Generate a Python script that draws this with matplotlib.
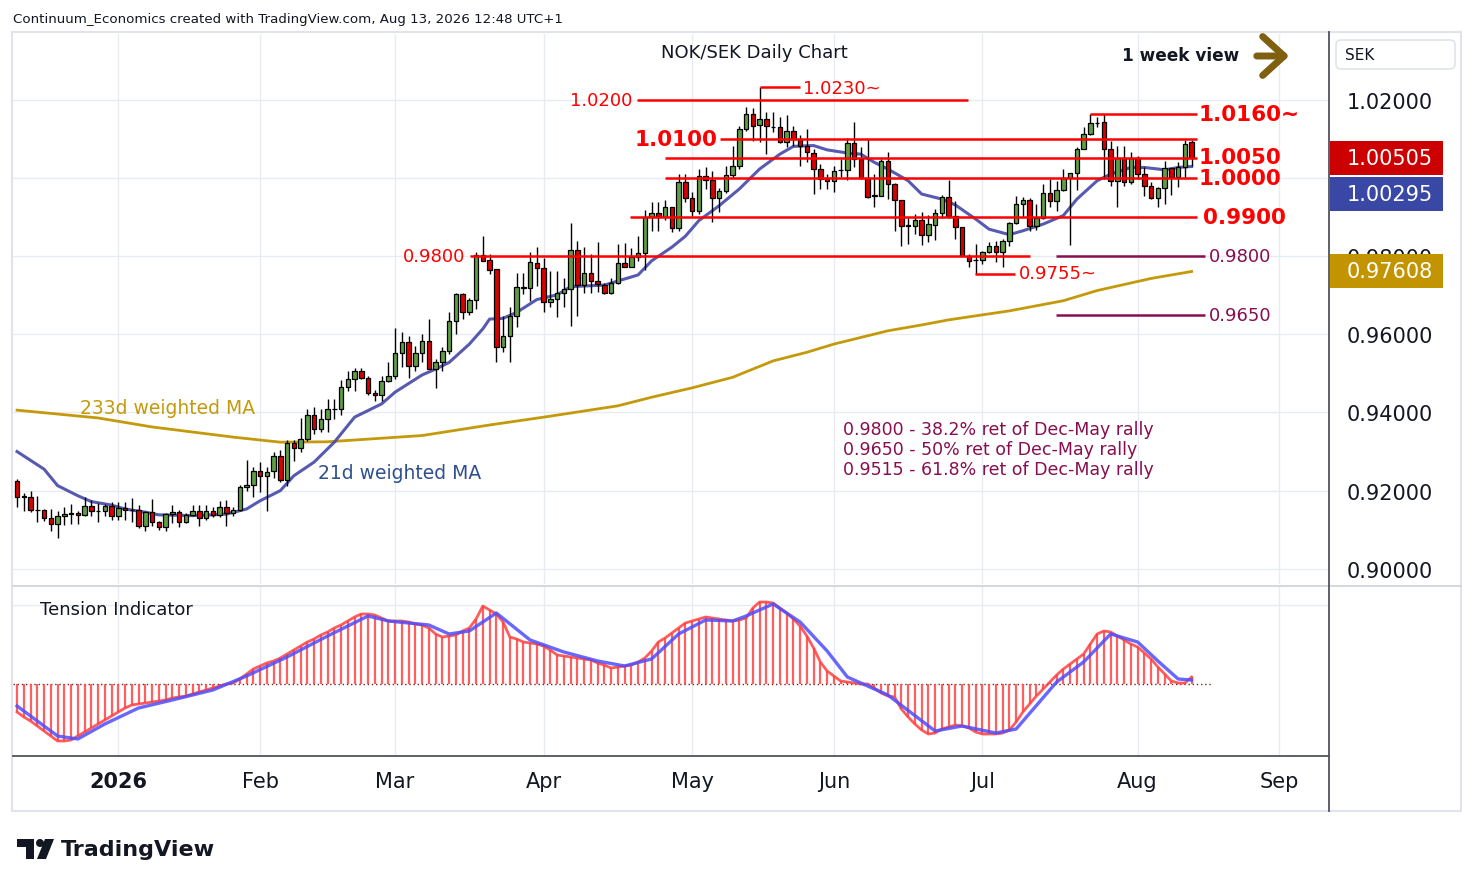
import numpy as np
import pandas as pd
import matplotlib
matplotlib.use("Agg")
import matplotlib.pyplot as plt
from matplotlib import transforms
from matplotlib.patches import Rectangle, Polygon, Circle, FancyArrowPatch, FancyBboxPatch

plt.rcParams["font.family"] = ["DejaVu Sans"]

# trading days shown (Dec 25 and Jan 1 have no bar), plus empty space to mid Sep
dates = pd.bdate_range("2025-12-10", "2026-09-10")
dates = dates[~dates.isin(pd.to_datetime(["2025-12-25", "2026-01-01"]))]

# NOK/SEK daily OHLC, Dec 10 2025 .. Aug 13 2026
opens = [
    0.9225, 0.9186, 0.9185, 0.9150, 0.9150, 0.9129, 0.9114, 0.9134, 0.9141, 0.9142,
    0.9137, 0.9160, 0.9148, 0.9147, 0.9160, 0.9134, 0.9155, 0.9151, 0.9150, 0.9109,
    0.9145, 0.9120, 0.9106, 0.9139, 0.9145, 0.9120, 0.9138, 0.9148, 0.9131, 0.9148,
    0.9137, 0.9158, 0.9142, 0.9150, 0.9209, 0.9214, 0.9250, 0.9237, 0.9249, 0.9288,
    0.9227, 0.9321, 0.9309, 0.9332, 0.9394, 0.9358, 0.9383, 0.9410, 0.9408, 0.9464,
    0.9486, 0.9507, 0.9488, 0.9450, 0.9445, 0.9480, 0.9493, 0.9552, 0.9581, 0.9518,
    0.9552, 0.9582, 0.9511, 0.9528, 0.9557, 0.9635, 0.9703, 0.9656, 0.9688, 0.9803,
    0.9790, 0.9767, 0.9568, 0.9596, 0.9648, 0.9720, 0.9718, 0.9782, 0.9769, 0.9682,
    0.9690, 0.9706, 0.9716, 0.9816, 0.9725, 0.9756, 0.9736, 0.9727, 0.9707, 0.9731,
    0.9782, 0.9771, 0.9797, 0.9807, 0.9901, 0.9910, 0.9900, 0.9925, 0.9872, 0.9989,
    0.9948, 0.9915, 1.0006, 0.9994, 0.9949, 0.9966, 1.0008, 1.0030, 1.0125, 1.0164,
    1.0136, 1.0150, 1.0131, 1.0130, 1.0091, 1.0121, 1.0100, 1.0083, 1.0064, 1.0023,
    1.0000, 0.9993, 1.0020, 1.0020, 1.0089, 1.0049, 0.9999, 0.9955, 0.9955, 1.0043,
    0.9984, 0.9944, 0.9878, 0.9878, 0.9893, 0.9855, 0.9881, 0.9910, 0.9952, 0.9902,
    0.9874, 0.9801, 0.9789, 0.9789, 0.9810, 0.9826, 0.9810, 0.9838, 0.9884, 0.9933,
    0.9944, 0.9878, 0.9898, 0.9961, 0.9942, 0.9970, 0.9999, 1.0012, 1.0074, 1.0113,
    1.0141, 1.0143, 1.0074, 0.9993, 1.0051, 0.9989, 1.0051, 1.0010, 0.9980, 0.9948,
    0.9974, 1.0025, 1.0003, 1.0029, 1.0091,
]
highs = [
    0.9230, 0.9194, 0.9198, 0.9186, 0.9153, 0.9153, 0.9149, 0.9157, 0.9166, 0.9149,
    0.9183, 0.9177, 0.9168, 0.9166, 0.9170, 0.9170, 0.9170, 0.9180, 0.9162, 0.9149,
    0.9179, 0.9122, 0.9143, 0.9163, 0.9150, 0.9143, 0.9162, 0.9164, 0.9162, 0.9157,
    0.9174, 0.9176, 0.9157, 0.9215, 0.9279, 0.9260, 0.9274, 0.9260, 0.9300, 0.9303,
    0.9330, 0.9330, 0.9385, 0.9409, 0.9414, 0.9410, 0.9434, 0.9435, 0.9484, 0.9507,
    0.9514, 0.9514, 0.9493, 0.9458, 0.9493, 0.9530, 0.9615, 0.9605, 0.9596, 0.9570,
    0.9601, 0.9639, 0.9537, 0.9567, 0.9656, 0.9706, 0.9706, 0.9693, 0.9810, 0.9852,
    0.9806, 0.9767, 0.9648, 0.9669, 0.9756, 0.9756, 0.9810, 0.9823, 0.9795, 0.9763,
    0.9763, 0.9744, 0.9885, 0.9840, 0.9823, 0.9806, 0.9835, 0.9731, 0.9744, 0.9831,
    0.9834, 0.9820, 0.9851, 0.9918, 0.9938, 0.9938, 0.9944, 0.9926, 1.0010, 1.0010,
    0.9963, 1.0023, 1.0027, 1.0019, 0.9975, 1.0030, 1.0083, 1.0134, 1.0181, 1.0178,
    1.0232, 1.0168, 1.0168, 1.0155, 1.0161, 1.0134, 1.0109, 1.0125, 1.0074, 1.0036,
    1.0010, 1.0031, 1.0049, 1.0102, 1.0143, 1.0079, 1.0100, 1.0010, 1.0049, 1.0066,
    0.9986, 0.9944, 0.9897, 0.9908, 0.9912, 0.9906, 0.9921, 0.9957, 0.9995, 0.9942,
    0.9874, 0.9805, 0.9831, 0.9814, 0.9837, 0.9840, 0.9844, 0.9887, 0.9955, 0.9951,
    0.9950, 0.9933, 0.9985, 0.9997, 0.9993, 1.0023, 1.0012, 1.0079, 1.0130, 1.0164,
    1.0155, 1.0164, 1.0095, 1.0083, 1.0081, 1.0067, 1.0057, 1.0027, 0.9990, 0.9976,
    1.0044, 1.0025, 1.0040, 1.0098, 1.0098,
]
lows = [
    0.9158, 0.9149, 0.9145, 0.9120, 0.9122, 0.9098, 0.9078, 0.9112, 0.9114, 0.9114,
    0.9134, 0.9135, 0.9121, 0.9135, 0.9126, 0.9126, 0.9126, 0.9119, 0.9104, 0.9098,
    0.9109, 0.9100, 0.9098, 0.9116, 0.9108, 0.9116, 0.9134, 0.9110, 0.9125, 0.9132,
    0.9132, 0.9110, 0.9134, 0.9147, 0.9200, 0.9183, 0.9196, 0.9147, 0.9232, 0.9222,
    0.9211, 0.9277, 0.9300, 0.9328, 0.9345, 0.9349, 0.9349, 0.9383, 0.9394, 0.9456,
    0.9454, 0.9486, 0.9446, 0.9430, 0.9429, 0.9479, 0.9485, 0.9517, 0.9489, 0.9506,
    0.9528, 0.9511, 0.9462, 0.9507, 0.9550, 0.9601, 0.9639, 0.9649, 0.9665, 0.9788,
    0.9754, 0.9528, 0.9556, 0.9528, 0.9620, 0.9703, 0.9686, 0.9724, 0.9658, 0.9669,
    0.9644, 0.9669, 0.9622, 0.9646, 0.9707, 0.9707, 0.9709, 0.9703, 0.9702, 0.9729,
    0.9771, 0.9771, 0.9788, 0.9765, 0.9865, 0.9865, 0.9893, 0.9863, 0.9865, 0.9938,
    0.9902, 0.9908, 0.9972, 0.9887, 0.9914, 0.9961, 1.0000, 1.0023, 1.0120, 1.0095,
    1.0091, 1.0061, 1.0117, 1.0090, 1.0079, 1.0083, 1.0030, 1.0040, 0.9959, 0.9972,
    0.9972, 0.9963, 1.0002, 0.9995, 1.0027, 0.9998, 0.9950, 0.9927, 0.9954, 0.9946,
    0.9865, 0.9827, 0.9831, 0.9857, 0.9829, 0.9837, 0.9841, 0.9898, 0.9898, 0.9844,
    0.9801, 0.9771, 0.9754, 0.9780, 0.9809, 0.9786, 0.9771, 0.9827, 0.9883, 0.9899,
    0.9865, 0.9868, 0.9896, 0.9925, 0.9916, 0.9968, 0.9829, 0.9970, 1.0073, 1.0111,
    1.0131, 0.9997, 0.9980, 0.9927, 0.9980, 0.9985, 0.9997, 0.9955, 0.9946, 0.9927,
    0.9933, 0.9957, 0.9976, 1.0000, 1.0031,
]
closes = [
    0.9184, 0.9184, 0.9150, 0.9150, 0.9130, 0.9114, 0.9134, 0.9139, 0.9142, 0.9137,
    0.9160, 0.9148, 0.9147, 0.9161, 0.9134, 0.9155, 0.9150, 0.9150, 0.9109, 0.9145,
    0.9120, 0.9106, 0.9139, 0.9145, 0.9120, 0.9138, 0.9148, 0.9131, 0.9148, 0.9137,
    0.9158, 0.9142, 0.9150, 0.9209, 0.9215, 0.9250, 0.9238, 0.9247, 0.9288, 0.9227,
    0.9321, 0.9309, 0.9332, 0.9394, 0.9358, 0.9383, 0.9410, 0.9408, 0.9464, 0.9486,
    0.9507, 0.9488, 0.9450, 0.9445, 0.9480, 0.9493, 0.9552, 0.9581, 0.9518, 0.9552,
    0.9583, 0.9511, 0.9528, 0.9557, 0.9635, 0.9703, 0.9656, 0.9688, 0.9803, 0.9788,
    0.9765, 0.9568, 0.9596, 0.9648, 0.9720, 0.9719, 0.9784, 0.9769, 0.9682, 0.9690,
    0.9706, 0.9716, 0.9816, 0.9725, 0.9756, 0.9736, 0.9729, 0.9707, 0.9731, 0.9782,
    0.9771, 0.9797, 0.9807, 0.9901, 0.9910, 0.9901, 0.9925, 0.9872, 0.9989, 0.9948,
    0.9915, 1.0004, 0.9994, 0.9949, 0.9966, 1.0008, 1.0030, 1.0125, 1.0164, 1.0134,
    1.0150, 1.0132, 1.0131, 1.0091, 1.0121, 1.0100, 1.0083, 1.0066, 1.0023, 0.9997,
    0.9993, 1.0017, 1.0020, 1.0089, 1.0049, 0.9999, 0.9952, 0.9955, 1.0043, 0.9984,
    0.9944, 0.9876, 0.9878, 0.9893, 0.9855, 0.9882, 0.9910, 0.9952, 0.9902, 0.9874,
    0.9801, 0.9787, 0.9789, 0.9810, 0.9826, 0.9810, 0.9838, 0.9884, 0.9933, 0.9944,
    0.9878, 0.9898, 0.9962, 0.9942, 0.9970, 0.9999, 1.0012, 1.0074, 1.0113, 1.0140,
    1.0142, 1.0074, 0.9993, 1.0051, 0.9989, 1.0051, 1.0010, 0.9980, 0.9948, 0.9974,
    1.0025, 1.0003, 1.0029, 1.0087, 1.00505,
]

# 21d weighted MA (bar index, value)
wma21_x = [0, 4, 6, 9, 11, 14, 16, 19, 21, 24, 26, 29, 31, 34, 36, 39, 41, 44, 47, 50,
           54, 56, 60, 62, 64, 67, 69, 70, 72, 74, 77, 80, 82, 87, 92, 94, 97, 99, 101, 104,
           107, 110, 113, 115, 118, 120, 123, 125, 127, 129, 132, 134, 137, 139, 142, 144, 147, 149, 152, 155,
           157, 160, 162, 165, 167, 170, 172, 174]
wma21_v = [0.9300, 0.9255, 0.9213, 0.9187, 0.9172, 0.9163, 0.9153, 0.9145, 0.9138, 0.9137,
           0.9136, 0.9138, 0.9140, 0.9153, 0.9174, 0.9200, 0.9238, 0.9273, 0.9324, 0.9388,
           0.9422, 0.9452, 0.9496, 0.9511, 0.9528, 0.9575, 0.9614, 0.9639, 0.9641, 0.9656,
           0.9689, 0.9701, 0.9722, 0.9726, 0.9752, 0.9788, 0.9823, 0.9851, 0.9891, 0.9929,
           0.9972, 1.0023, 1.0061, 1.0081, 1.0083, 1.0072, 1.0064, 1.0061, 1.0040, 1.0023,
           0.9993, 0.9959, 0.9946, 0.9931, 0.9895, 0.9869, 0.9855, 0.9865, 0.9882, 0.9904,
           0.9946, 0.9993, 1.0010, 1.0027, 1.0027, 1.0021, 1.0027, 1.00295]

# 233d weighted MA (bar index, value)
wma233_x = [0, 12, 20, 26, 32, 39, 46, 60, 70, 78, 89, 94, 100, 106, 109, 112, 117, 121, 125,
            129, 134, 138, 147, 151, 155, 160, 168, 174]
wma233_v = [0.9406, 0.9386, 0.9363, 0.9350, 0.9337, 0.9324, 0.9325, 0.9341, 0.9368, 0.9388,
            0.9417, 0.9439, 0.9463, 0.9490, 0.9511, 0.9532, 0.9554, 0.9575, 0.9592,
            0.9609, 0.9624, 0.9637, 0.9660, 0.9673, 0.9686, 0.9712, 0.9743, 0.97608]

# Tension indicator, one value per bar, and its signal line
tension = [
    -28, -33, -37, -42, -47, -52, -57, -57, -56, -52,
    -48, -44, -40, -36, -32, -28, -24, -21, -20, -19,
    -18, -17, -16, -14, -13, -12, -10, -8, -6, -4,
    -2, 0, 1, 5, 10, 15, 18, 21, 23, 26,
    30, 34, 38, 42, 45, 49, 52, 56, 59, 63,
    67, 70, 70, 69, 66, 63, 63, 63, 62, 60,
    59, 56, 50, 47, 48, 49, 53, 56, 65, 78,
    74, 70, 62, 47, 45, 42, 41, 40, 38, 34,
    29, 28, 27, 26, 25, 24, 21, 19, 16, 17,
    18, 19, 22, 26, 33, 42, 46, 51, 56, 61,
    63, 65, 67, 66, 65, 64, 63, 64, 66, 76,
    82, 82, 81, 76, 71, 65, 58, 48, 36, 22,
    13, 8, 3, 2, 1, 0, 0, -4, -9, -12,
    -13, -25, -33, -40, -46, -50, -49, -45, -43, -41,
    -42, -44, -48, -50, -50, -50, -49, -46, -38, -28,
    -20, -12, -5, 2, 9, 15, 20, 25, 30, 40,
    50, 53, 52, 48, 44, 40, 37, 31, 25, 17,
    10, 3, 1, 1, 7,
]
signal_x = [0, 6, 9, 13, 18, 23, 29, 34, 40, 46, 52, 55, 61, 64, 67, 71, 76, 81, 86, 90,
            94, 98, 102, 106, 108, 112, 116, 120, 123, 129, 136, 140, 145, 148, 154, 158, 162, 166, 169, 172, 174]
signal_v = [-22, -52, -55, -40, -24, -16, -6, 8, 27, 48, 68, 63, 59, 50, 53, 71, 44, 32, 23, 18,
            25, 50, 64, 63, 68, 80, 62, 33, 7, -11, -47, -42, -49, -45, 2, 22, 50, 42, 23, 5, 4]

n = len(closes)
idx = np.arange(n)
o, h, l, c = map(np.array, (opens, highs, lows, closes))

# month ticks: first bar of each month from Jan
month_pos, month_lab = [], []
for i, d in enumerate(dates):
    if d.year == 2026 and (i == 0 or dates[i - 1].month != d.month):
        month_pos.append(i)
        month_lab.append("2026" if d.month == 1 else d.strftime("%b"))

W, H = 1474, 887
fig = plt.figure(figsize=(W / 100, H / 100), dpi=100)


def rect(x0, y0, x1, y1):
    return [x0 / W, 1 - y1 / H, (x1 - x0) / W, (y1 - y0) / H]


ax1 = fig.add_axes(rect(13, 35, 1328, 585))
ax2 = fig.add_axes(rect(13, 588, 1328, 757))
XL = (-0.6, 194.2)

# ---------------- price pane ----------------
ax1.set_xlim(*XL)
ax1.set_ylim(0.89611, 1.03685)
for s in ax1.spines.values():
    s.set_visible(False)
ax1.set_xticks(month_pos)
ax1.tick_params(axis="x", length=0, labelbottom=False)
ax1.yaxis.tick_right()
yt = np.arange(0.90, 1.0201, 0.02)
ax1.set_yticks(yt)
# 1.00000 sits under the last-price boxes, so the scale leaves it out
ax1.set_yticklabels(["" if abs(v - 1.0) < 1e-9 else f"{v:.5f}" for v in yt])
ax1.tick_params(axis="y", length=0, pad=13.5, labelsize=15, labelcolor="#131722")
ax1.grid(True, color="#e6ecf2", lw=1, zorder=0)

ax1.plot(wma233_x, wma233_v, color="#c49a0c", lw=2, zorder=2)
ax1.plot(wma21_x, wma21_v, color="#4549a8", lw=2.2, alpha=0.9, zorder=2)

up = c >= o
col = np.where(up, "#5f9e45", "#d90000")
ax1.vlines(idx, l, h, color="black", lw=1, zorder=3)
body_lo = np.minimum(o, c)
body_h = np.maximum(np.abs(c - o), 0.00008)
ax1.bar(idx, body_h, bottom=body_lo, width=0.66, color=col, edgecolor="black",
        linewidth=0.9, zorder=4)

# red levels
red = "#ff0000"
red_lines = [(1.0200, 91.9, 140.9), (1.0232, 110.0, 116.0), (1.0100, 104.2, 174.8),
             (1.0164, 159.0, 174.8), (1.0050, 96.0, 174.8), (1.0000, 96.0, 174.8),
             (0.9900, 90.8, 174.8), (0.9800, 67.1, 150.1), (0.9754, 141.9, 147.9)]
for y, x0, x1 in red_lines:
    ax1.hlines(y, x0, x1, color=red, lw=1.8, zorder=5)

small = dict(color=red, fontsize=13, va="center", zorder=6)
big = dict(color=red, fontsize=15.5, fontweight="bold", va="center", zorder=6)
ax1.text(91.2, 1.0200, "1.0200", ha="right", **small)
ax1.text(116.4, 1.0230, "1.0230~", ha="left", **small)
ax1.text(66.4, 0.9800, "0.9800", ha="right", **small)
ax1.text(148.4, 0.9756, "0.9755~", ha="left", **small)
ax1.text(103.8, 1.0101, "1.0100", ha="right", **big)
ax1.text(175.0, 1.0165, "1.0160~", ha="left", **big)
ax1.text(175.0, 1.0055, "1.0050", ha="left", **big)
ax1.text(175.0, 0.9999, "1.0000", ha="left", **big)
ax1.text(175.7, 0.9900, "0.9900", ha="left", **big)

purple = "#880e4f"
for y in (0.9800, 0.9650):
    ax1.hlines(y, 153.9, 176.0, color=purple, lw=1.8, zorder=5)
    ax1.text(176.6, y, f"{y:.4f}", color=purple, fontsize=13, va="center", ha="left")

notes = ["0.9800 - 38.2% ret of Dec-May rally",
         "0.9650 - 50% ret of Dec-May rally",
         "0.9515 - 61.8% ret of Dec-May rally"]
for k, s in enumerate(notes):
    ax1.text(0.6312, 0.2818 - k * 0.0364, s, transform=ax1.transAxes, color=purple,
             fontsize=12.5, va="center", ha="left")

ax1.text(0.051, 0.32, "233d weighted MA", transform=ax1.transAxes, color="#c49a0c",
         fontsize=13.5, va="center")
ax1.text(0.232, 0.2036, "21d weighted MA", transform=ax1.transAxes, color="#2f4f8f",
         fontsize=13.5, va="center")
ax1.text(0.564, 0.967, "NOK/SEK Daily Chart", transform=ax1.transAxes, color="#131722",
         fontsize=13, va="center", ha="center")
ax1.text(0.8433, 0.9615, "1 week view", transform=ax1.transAxes, color="#131722",
         fontsize=12.2, fontweight="bold", va="center", ha="left")

# last value boxes on the price scale
bt = transforms.blended_transform_factory(ax1.transAxes, ax1.transData)
box_h = 34 / 3908
boxes = [(closes[-1], closes[-1], "#cc0000"),
         (wma21_v[-1], closes[-1] - 36 / 3908, "#3a48a5"),
         (wma233_v[-1], wma233_v[-1], "#c29400")]
for val, ypos, fc in boxes:
    ax1.add_patch(Rectangle((1.0015, ypos - box_h / 2), 0.0859, box_h, transform=bt,
                            facecolor=fc, edgecolor="none", clip_on=False, zorder=7))
    ax1.text(1.0144, ypos, f"{val:.5f}", transform=bt, color="white", fontsize=15,
             va="center", ha="left", clip_on=False, zorder=8)

# ---------------- tension pane ----------------
ax2.set_xlim(*XL)
ax2.set_ylim(-72, 97)
for s in ax2.spines.values():
    s.set_visible(False)
ax2.set_xticks(month_pos)
ax2.set_xticklabels(month_lab)
for t in ax2.get_xticklabels():
    if t.get_text() == "2026":
        t.set_fontweight("bold")
ax2.tick_params(axis="x", length=0, pad=11, labelsize=15, labelcolor="#131722")
ax2.set_yticks([79])
ax2.tick_params(axis="y", length=0, labelleft=False)
ax2.grid(True, color="#e6ecf2", lw=1, zorder=0)
ax2.axhline(0, color="#7a2020", lw=1, ls=(0, (1, 2)), xmax=(177 - XL[0]) / (XL[1] - XL[0]))
ax2.vlines(idx, 0, tension, color="#ff4d4d", lw=1.6, alpha=0.9, zorder=2)
ax2.plot(idx, tension, color="#ff4040", lw=2, alpha=0.85, zorder=3)
ax2.plot(signal_x, signal_v, color="#4d4dff", lw=2.4, alpha=0.85, zorder=4)
ax2.text(0.0205, 0.87, "Tension Indicator", transform=ax2.transAxes, color="#131722",
         fontsize=13, va="center")

# ---------------- frame, header, footer ----------------
ov = fig.add_axes([0, 0, 1, 1], zorder=5)
ov.set_xlim(0, W)
ov.set_ylim(H, 0)
ov.axis("off")
ov.patch.set_alpha(0)
ov.add_patch(Rectangle((12, 33), 1449, 779, fill=False, ec="#e0e3eb", lw=1.5))
ov.plot([13, 1461], [586.5, 586.5], color="#d1d4dc", lw=1.3)
ov.plot([1329, 1329], [33, 812], color="#50535e", lw=1.3)
ov.plot([13, 1329], [757, 757], color="#50535e", lw=1.3)
ov.add_patch(FancyBboxPatch((1336, 41), 119, 29, boxstyle="round,pad=0,rounding_size=5",
                            fc="white", ec="#e0e3eb", lw=1.2))
ov.text(1345, 55.5, "SEK", fontsize=11, va="center", color="#131722")
ov.add_patch(FancyArrowPatch((1254, 57), (1292, 57), arrowstyle="->,head_length=0.55,head_width=0.5",
                             mutation_scale=28, lw=5, color="#7f6010"))
ov.text(13, 19, "Continuum_Economics created with TradingView.com, Aug 13, 2026 12:48 UTC+1",
        fontsize=9.6, va="center", ha="left", color="#131722")
# TradingView logo
ov.add_patch(Polygon([(17, 840), (34, 840), (34, 860), (26, 860), (26, 848), (17, 848)],
                     closed=True, fc="#131722", ec="none"))
ov.add_patch(Circle((40, 844), 4, fc="#131722", ec="none"))
ov.add_patch(Polygon([(45, 840), (54, 840), (46, 860), (37, 860)], closed=True,
                     fc="#131722", ec="none"))
ov.text(61, 850, "TradingView", fontsize=16, fontweight="bold", va="center", ha="left",
        color="#131722")

fig.savefig("out.png", dpi=100, facecolor="white")
